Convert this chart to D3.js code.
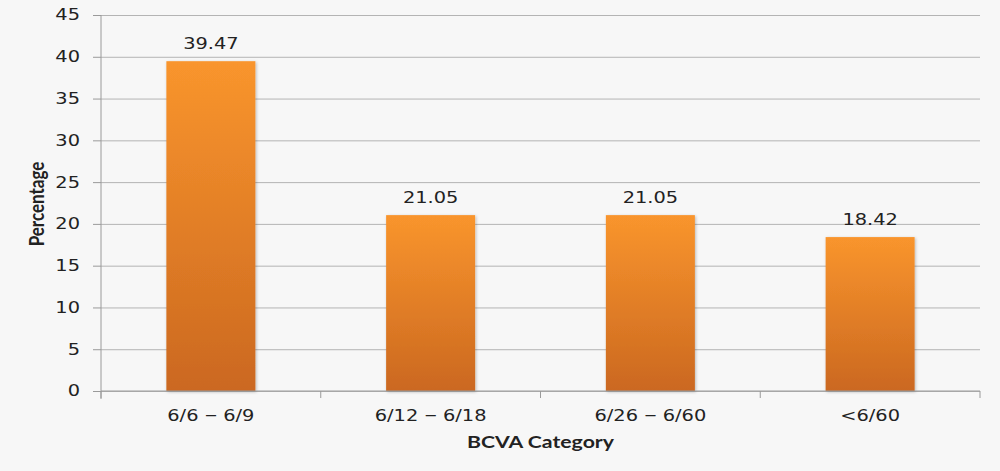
<!DOCTYPE html>
<html>
<head>
<meta charset="utf-8">
<script src="https://cdn.jsdelivr.net/npm/d3@7"></script>
<style>
  body { margin: 0; background: #f7f7f7; }
  .tick text { font-family: "DejaVu Sans", Verdana, sans-serif; font-size: 15.5px; fill: #222; }
  .axis path, .axis line { stroke: #9a9a9a; }
  .grid line { stroke: #b4b4b4; }
  .grid path { display: none; }
</style>
</head>
<body>
<div id="chart"></div>
<script>
var categories = ["6/6 \u2013 6/9", "6/12 \u2013 6/18", "6/26 \u2013 6/60", "<6/60"];
var values = [39.47, 21.05, 21.05, 18.42];
var yTicks = [0, 5, 10, 15, 20, 25, 30, 35, 40, 45];

var margin = { top: 15, right: 20, bottom: 80, left: 101 },
  width = 1000 - margin.left - margin.right,
  height = 471 - margin.top - margin.bottom;

// the original picture is stretched sideways, so text is widened to match
var sx = 1.25;

function stretch(sel) {
  sel.each(function () {
    var t = d3.select(this);
    var tx = +t.attr("x") || 0, ty = +t.attr("y") || 0;
    t.attr("x", 0).attr("y", 0)
      .attr("transform", "translate(" + tx + "," + ty + ") scale(" + sx + ",1)");
  });
}

var svg = d3.select("#chart")
  .append("svg")
  .attr("width", 1000)
  .attr("height", 471);

var defs = svg.append("defs");
var grad = defs.append("linearGradient")
  .attr("id", "barGrad")
  .attr("x1", 0).attr("y1", 0).attr("x2", 0).attr("y2", 1);
grad.append("stop").attr("offset", "0%").attr("stop-color", "#f9952d");
grad.append("stop").attr("offset", "100%").attr("stop-color", "#cb6820");

var shadow = defs.append("filter").attr("id", "shadow")
  .attr("x", "-10%").attr("y", "-10%").attr("width", "130%").attr("height", "130%");
shadow.append("feDropShadow")
  .attr("dx", 1).attr("dy", 1).attr("stdDeviation", 1.5)
  .attr("flood-color", "#000").attr("flood-opacity", 0.25);

var g = svg.append("g")
  .attr("transform", "translate(" + margin.left + "," + margin.top + ")");

var x = d3.scaleBand()
  .domain(categories)
  .range([0, width])
  .paddingInner(0.595)
  .paddingOuter(0.2975);

var y = d3.scaleLinear()
  .domain([0, 45])
  .range([height, 0]);

// gridlines
g.append("g")
  .attr("class", "grid")
  .call(d3.axisLeft(y)
    .tickValues(yTicks)
    .tickSize(-width)
    .tickFormat("")
  );

// bars
g.selectAll(".bar")
  .data(values)
  .enter()
  .append("rect")
  .attr("class", "bar")
  .attr("x", function (d, i) { return x(categories[i]); })
  .attr("y", function (d) { return y(d); })
  .attr("width", x.bandwidth())
  .attr("height", function (d) { return height - y(d); })
  .attr("fill", "url(#barGrad)")
  .attr("filter", "url(#shadow)");

// value labels
g.selectAll(".label")
  .data(values)
  .enter()
  .append("text")
  .attr("class", "label")
  .attr("x", function (d, i) { return x(categories[i]) + x.bandwidth() / 2; })
  .attr("y", function (d) { return y(d) - 12; })
  .attr("text-anchor", "middle")
  .style("font-family", "DejaVu Sans, Verdana, sans-serif")
  .style("font-size", "15.5px")
  .style("fill", "#222")
  .text(function (d) { return d.toFixed(2); })
  .call(stretch);

// y axis
var yAxis = g.append("g")
  .attr("class", "axis")
  .call(d3.axisLeft(y).tickValues(yTicks).tickSize(8).tickPadding(13));
yAxis.select(".domain").attr("d", "M0," + (height + 8) + "V0");
yAxis.selectAll(".tick text").call(stretch);

// x axis with ticks at category boundaries
var xAxis = g.append("g")
  .attr("class", "axis")
  .attr("transform", "translate(0," + height + ")")
  .call(d3.axisBottom(x).tickSize(0).tickPadding(19));
xAxis.select(".domain").attr("d", "M0,0H" + width);
xAxis.selectAll(".tick text").call(stretch);

// the dash in the labels is drawn a little longer, as in the original
xAxis.selectAll(".tick text").each(function (d) {
  var parts = d.split(" \u2013 ");
  if (parts.length < 2) return;
  var t = d3.select(this).text("");
  t.append("tspan").text(parts[0] + " ");
  t.append("tspan").style("font-size", "20px").text("\u2013");
  t.append("tspan").text(" " + parts[1]);
});

var step = x.step();
xAxis.selectAll(".sep")
  .data(d3.range(categories.length + 1))
  .enter()
  .append("line")
  .attr("class", "sep")
  .attr("x1", function (i) { return i * step; })
  .attr("x2", function (i) { return i * step; })
  .attr("y1", 0)
  .attr("y2", 7);

// x axis title
svg.append("text")
  .attr("x", margin.left + width / 2)
  .attr("y", 448)
  .attr("text-anchor", "middle")
  .style("font-family", "Lato, sans-serif")
  .style("font-weight", "bold")
  .style("font-size", "17px")
  .style("fill", "#222")
  .text("BCVA Category")
  .call(stretch);

// y axis title
svg.append("text")
  .attr("transform", "translate(44,204) rotate(-90) scale(1," + sx + ")")
  .attr("text-anchor", "middle")
  .style("font-family", "Lato, sans-serif")
  .style("font-weight", "bold")
  .style("font-size", "17px")
  .style("fill", "#222")
  .text("Percentage");
</script>
</body>
</html>
